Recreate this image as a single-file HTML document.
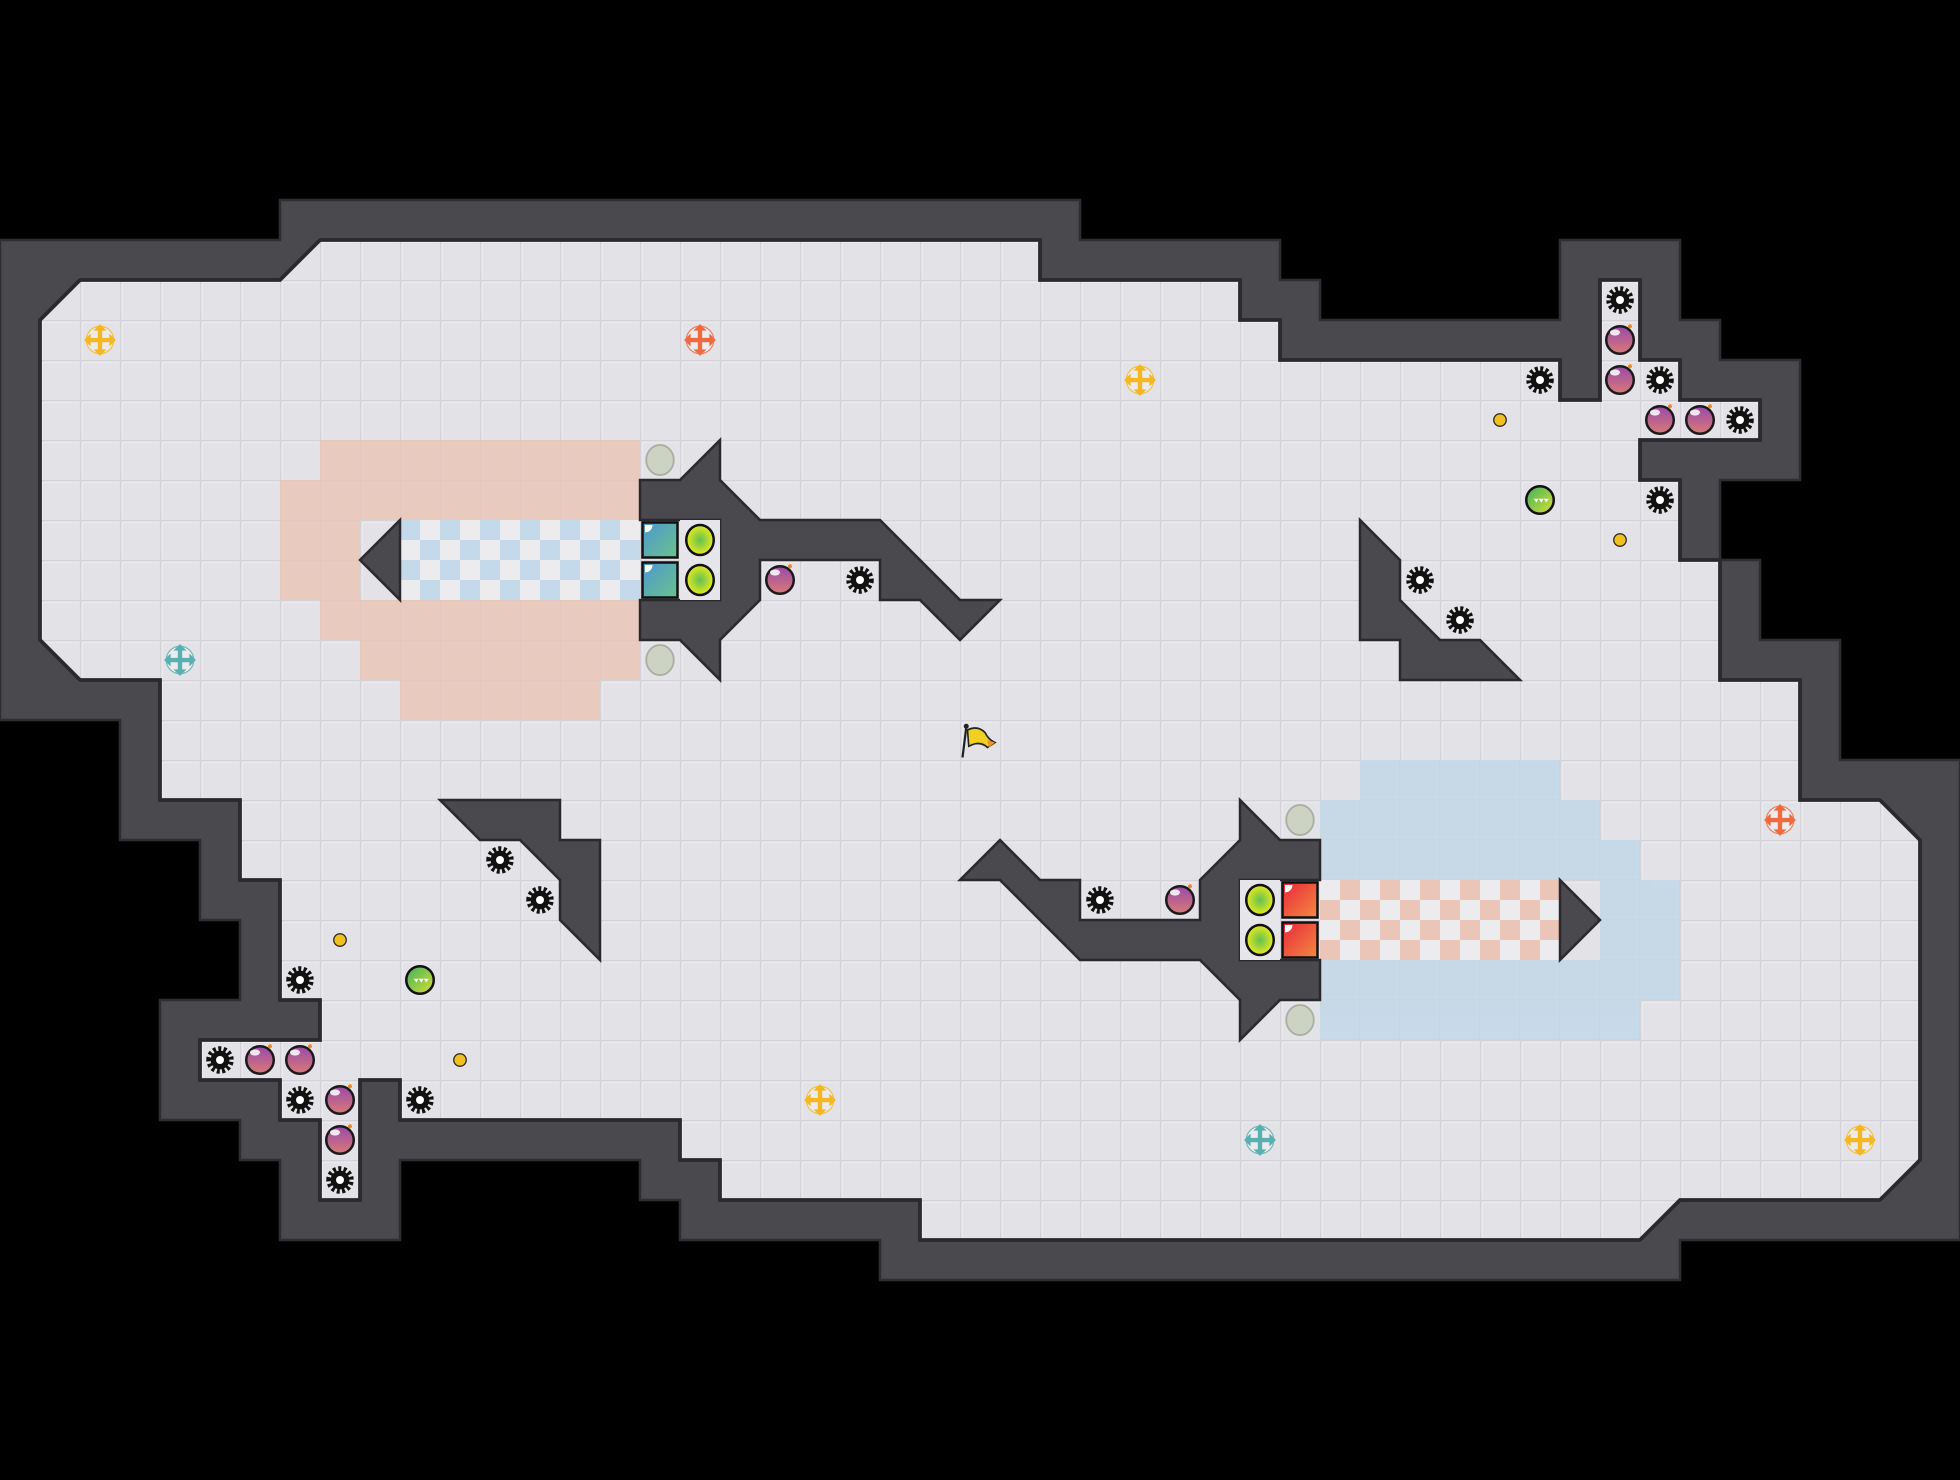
<!DOCTYPE html>
<html><head><meta charset="utf-8"><style>html,body{margin:0;padding:0;background:#000;}svg{display:block}</style></head>
<body>
<svg width="1960" height="1480" viewBox="0 0 1568 1184" xmlns="http://www.w3.org/2000/svg">
<defs>
<pattern id="grid" x="0" y="0" width="32" height="32" patternUnits="userSpaceOnUse">
<rect width="32" height="32" fill="#e3e3e7"/>
<rect x="0" y="0" width="32" height="1.2" fill="#d3d3d9"/>
<rect x="0" y="0" width="1.2" height="32" fill="#d3d3d9"/>
<rect x="1.2" y="1.2" width="30" height="1" fill="#eeeef1"/>
<rect x="1.2" y="1.2" width="1" height="30" fill="#eeeef1"/>
</pattern>
<pattern id="chkB" x="0" y="0" width="32" height="32" patternUnits="userSpaceOnUse">
<rect width="32" height="32" fill="#ececef"/><rect width="16" height="16" fill="#c4d9ea"/><rect x="16" y="16" width="16" height="16" fill="#c4d9ea"/>
</pattern>
<pattern id="chkS" x="0" y="0" width="32" height="32" patternUnits="userSpaceOnUse">
<rect width="32" height="32" fill="#ececef"/><rect x="16" width="16" height="16" fill="#ebc6b8"/><rect y="16" width="16" height="16" fill="#ebc6b8"/>
</pattern>
<radialGradient id="yg"><stop offset="0" stop-color="#62c050"/><stop offset="1" stop-color="#e6ea20"/></radialGradient>
<linearGradient id="bombGrad" x1="0" y1="0" x2="0" y2="1"><stop offset="0" stop-color="#9a4aa8"/><stop offset="1" stop-color="#d87a78"/></linearGradient>
<linearGradient id="bg" x1="0" y1="0" x2="1" y2="1"><stop offset="0" stop-color="#4b98d0"/><stop offset="1" stop-color="#6cc28c"/></linearGradient>
<linearGradient id="rg" x1="0" y1="0" x2="1" y2="1"><stop offset="0" stop-color="#e8283a"/><stop offset="1" stop-color="#f48a40"/></linearGradient>
<linearGradient id="gb" x1="0" y1="0" x2="1" y2="1"><stop offset="0" stop-color="#40b060"/><stop offset="1" stop-color="#d8e030"/></linearGradient>
<g id="gear"><circle r="8.5" fill="none" stroke="#111" stroke-width="5" stroke-dasharray="2.2 1.8"/><circle r="7.5" fill="#111"/><circle r="3.2" fill="#fff"/></g>
<g id="bomb"><circle r="11" fill="url(#bombGrad)" stroke="#1a1a1a" stroke-width="2"/><ellipse cx="-4" cy="-6" rx="4" ry="2.5" fill="#fff" opacity="0.85"/><circle cx="8" cy="-11" r="1.6" fill="#f08a20"/></g>
<g id="gball"><circle r="11" fill="url(#gb)" stroke="#111" stroke-width="2"/><path d="M-5 -1 l2 3 l2 -3 z M-1 -1 l2 3 l2 -3 z M3 -1 l2 3 l2 -3z" fill="#fff"/></g>
<g id="ydot"><circle r="5" fill="#f0c020" stroke="#222" stroke-width="1"/></g>
<g id="ycirc"><ellipse rx="11" ry="12" fill="url(#yg)" stroke="#111" stroke-width="2"/></g>
<g id="oval"><ellipse rx="11" ry="12" fill="#cdd3c2" stroke="#aab0a4" stroke-width="1.5"/></g>
<g id="cross"><circle r="11" fill="#eeeef2" opacity="0.8"/><path d="M-10 0 H10 M0 -10 V10" stroke-width="3.5" fill="none"/><path d="M-12 0 l4 -4 v8z M12 0 l-4 -4 v8z M0 -12 l-4 4 h8z M0 12 l-4 -4 h8z"/></g>
<g id="region">
<rect x="256" y="352" width="256" height="32"/>
<rect x="224" y="384" width="288" height="32"/>
<rect x="224" y="416" width="64" height="64"/>
<rect x="256" y="480" width="256" height="32"/>
<rect x="288" y="512" width="224" height="32"/>
<rect x="320" y="544" width="160" height="32"/>
</g>
</defs>
<rect width="1568" height="1184" fill="#000"/>
<!-- outer walls -->
<polygon fill="#4a494e" stroke="#2f2e33" stroke-width="2" points="0,192 224,192 224,160 864,160 864,192 1024,192 1024,224 1056,224 1056,256 1248,256 1248,192 1344,192 1344,256 1376,256 1376,288 1440,288 1440,384 1376,384 1376,448 1408,448 1408,512 1472,512 1472,608 1568,608 1568,992 1344,992 1344,1024 704,1024 704,992 544,992 544,960 512,960 512,928 320,928 320,992 224,992 224,928 192,928 192,896 128,896 128,800 192,800 192,736 160,736 160,672 96,672 96,576 0,576"/>
<!-- floor -->
<polygon fill="url(#grid)" stroke="#2a292d" stroke-width="3" points="32,256 64,224 224,224 256,192 832,192 832,224 992,224 992,256 1024,256 1024,288 1248,288 1248,320 1280,320 1280,224 1312,224 1312,288 1344,288 1344,320 1408,320 1408,352 1312,352 1312,384 1344,384 1344,448 1376,448 1376,544 1440,544 1440,640 1504,640 1536,672 1536,928 1504,960 1344,960 1312,992 736,992 736,960 576,960 576,928 544,928 544,896 320,896 320,864 288,864 288,960 256,960 256,896 224,896 224,864 160,864 160,832 256,832 256,800 224,800 224,704 192,704 192,640 128,640 128,544 64,544 32,512"/>
<!-- regions -->
<use href="#region" fill="#e9c6b8"/>
<use href="#region" fill="url(#grid)" opacity="0.15"/>
<rect x="320" y="416" width="192" height="64" fill="url(#chkB)"/>
<g transform="rotate(180 784 592)">
<use href="#region" fill="#c3d7e8"/>
<use href="#region" fill="url(#grid)" opacity="0.15"/>
</g>
<rect x="1056" y="704" width="192" height="64" fill="url(#chkS)"/>
<!-- inner walls -->
<g id="walls" fill="#4a494e" stroke="#2a292d" stroke-width="2">
<polygon points="512,384 544,384 576,352 576,384 608,416 704,416 768,480 800,480 768,512 736,480 704,480 704,448 608,448 608,480 576,512 576,544 544,512 512,512 512,480 576,480 576,416 512,416"/>
<polygon points="320,416 288,448 320,480"/>
<polygon points="1088,416 1120,448 1120,480 1152,512 1184,512 1216,544 1120,544 1120,512 1088,512"/>
</g>
<use href="#walls" transform="rotate(180 784 592)"/>
<rect x="544" y="416" width="32" height="64" fill="#e6e6ea"/>
<rect x="992" y="704" width="32" height="64" fill="#e6e6ea"/>
<!-- squares -->
<rect x="514" y="418" width="28" height="28" fill="url(#bg)" stroke="#111" stroke-width="2"/>
<rect x="514" y="450" width="28" height="28" fill="url(#bg)" stroke="#111" stroke-width="2"/>
<rect x="1026" y="706" width="28" height="28" fill="url(#rg)" stroke="#111" stroke-width="2"/>
<rect x="1026" y="738" width="28" height="28" fill="url(#rg)" stroke="#111" stroke-width="2"/>
<g fill="#fff"><path d="M516 420 h6 a6 6 0 0 1 -6 6z"/><path d="M516 452 h6 a6 6 0 0 1 -6 6z"/><path d="M1028 708 h6 a6 6 0 0 1 -6 6z"/><path d="M1028 740 h6 a6 6 0 0 1 -6 6z"/></g>
<!-- items -->
<g>
<use href="#ycirc" x="560" y="432"/><use href="#ycirc" x="560" y="464"/>
<use href="#oval" x="528" y="368"/><use href="#oval" x="528" y="528"/>
<use href="#gear" x="688" y="464"/>
<use href="#gear" x="1296" y="240"/><use href="#gear" x="1232" y="304"/><use href="#gear" x="1328" y="304"/><use href="#gear" x="1392" y="336"/><use href="#gear" x="1328" y="400"/>
<use href="#ydot" x="1200" y="336"/><use href="#ydot" x="1296" y="432"/>
<use href="#gear" x="1136" y="464"/><use href="#gear" x="1168" y="496"/>
</g>
<g transform="rotate(180 784 592)">
<use href="#ycirc" x="560" y="432"/><use href="#ycirc" x="560" y="464"/>
<use href="#oval" x="528" y="368"/><use href="#oval" x="528" y="528"/>
<use href="#gear" x="688" y="464"/>
<use href="#gear" x="1296" y="240"/><use href="#gear" x="1232" y="304"/><use href="#gear" x="1328" y="304"/><use href="#gear" x="1392" y="336"/><use href="#gear" x="1328" y="400"/>
<use href="#ydot" x="1200" y="336"/><use href="#ydot" x="1296" y="432"/>
<use href="#gear" x="1136" y="464"/><use href="#gear" x="1168" y="496"/>
</g>
<use href="#bomb" x="624" y="464"/><use href="#bomb" x="944" y="720"/>
<use href="#bomb" x="1296" y="272"/><use href="#bomb" x="1296" y="304"/><use href="#bomb" x="1328" y="336"/><use href="#bomb" x="1360" y="336"/>
<use href="#bomb" x="272" y="912"/><use href="#bomb" x="272" y="880"/><use href="#bomb" x="240" y="848"/><use href="#bomb" x="208" y="848"/>
<use href="#gball" x="1232" y="400"/><use href="#gball" x="336" y="784"/>
<!-- crosses -->
<use href="#cross" x="80" y="272" fill="#f5b820" stroke="#f5b820"/>
<use href="#cross" x="1488" y="912" fill="#f5b820" stroke="#f5b820"/>
<use href="#cross" x="912" y="304" fill="#f5b820" stroke="#f5b820"/>
<use href="#cross" x="656" y="880" fill="#f5b820" stroke="#f5b820"/>
<use href="#cross" x="560" y="272" fill="#f06a40" stroke="#f06a40"/>
<use href="#cross" x="1424" y="656" fill="#f06a40" stroke="#f06a40"/>
<use href="#cross" x="144" y="528" fill="#5ab0b0" stroke="#5ab0b0"/>
<use href="#cross" x="1008" y="912" fill="#5ab0b0" stroke="#5ab0b0"/>
<!-- flag -->
<line x1="773" y1="582" x2="770" y2="606" stroke="#222" stroke-width="1.8"/>
<circle cx="773" cy="581" r="2" fill="#222"/>
<path d="M774 584 q8 -4 14 2 q3 6 8 8 l-6 4 q-4 -4 -10 -3 q-3 1 -5 2z" fill="#f0d020" stroke="#222" stroke-width="1.3"/>
<path d="M790 592 l6 2 l-5 4z" fill="#f09020"/>
</svg>
</body></html>
